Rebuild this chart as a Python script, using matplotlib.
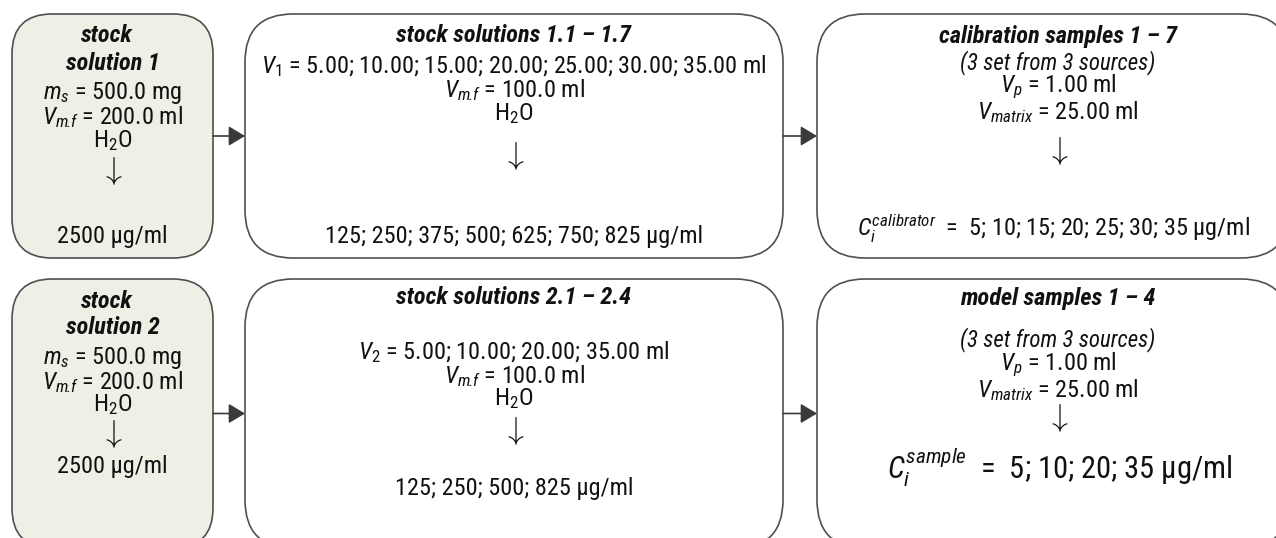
import matplotlib
matplotlib.use("Agg")
import matplotlib.pyplot as plt
from matplotlib.patches import FancyBboxPatch, FancyArrowPatch
import matplotlib.font_manager as fm

# ---------------- data ----------------
stock_mass_mg = 500.0
stock_volume_ml = 200.0
stock_conc = 2500
V1_ml = [5.00, 10.00, 15.00, 20.00, 25.00, 30.00, 35.00]
V2_ml = [5.00, 10.00, 20.00, 35.00]
Vmf_ml = 100.0
conc1_ugml = [125, 250, 375, 500, 625, 750, 825]
conc2_ugml = [125, 250, 500, 825]
Vp_ml = 1.00
Vmatrix_ml = 25.00
calib_ugml = [5, 10, 15, 20, 25, 30, 35]
sample_ugml = [5, 10, 20, 35]

# ---------------- fonts ----------------
def _wt(w):
    if isinstance(w, str):
        return {"bold": 700, "normal": 400, "regular": 400}.get(w, 400)
    return int(w)

def usable(name):
    ent = [f for f in fm.fontManager.ttflist if f.name == name]
    reg = any(f.style == "normal" and _wt(f.weight) <= 500 for f in ent)
    it = any(f.style in ("italic", "oblique") and _wt(f.weight) <= 500 for f in ent)
    bi = any(f.style in ("italic", "oblique") and _wt(f.weight) >= 600 for f in ent)
    return reg and it and bi

FONT = "Liberation Sans"
for cand in ["Liberation Sans Narrow", "Arial Narrow", "Roboto Condensed",
             "Archivo Narrow", "Fira Sans Condensed", "Barlow Semi Condensed",
             "IBM Plex Sans Condensed", "Encode Sans Condensed",
             "Asap Condensed", "Open Sans Condensed"]:
    if usable(cand):
        FONT = cand
        break
SCALE = 0.82 if FONT == "Liberation Sans" else 1.0

plt.rcParams["font.family"] = [FONT, "DejaVu Sans"]
plt.rcParams["mathtext.fontset"] = "custom"
plt.rcParams["mathtext.rm"] = FONT
plt.rcParams["mathtext.it"] = FONT + ":italic"
plt.rcParams["mathtext.bf"] = FONT + ":bold"
plt.rcParams["mathtext.fallback"] = "cm"

FS = 17.5 * SCALE
FS_SMALL = 16.5 * SCALE
FS_BIG = 22 * SCALE
FS_ARROW = 23
TXT = "#111111"
EDGE = "#505050"
FILL1 = "#EEF0E6"

W, H = 1276, 538
fig = plt.figure(figsize=(W / 100, H / 100), dpi=100)
ax = fig.add_axes([0, 0, 1, 1])
ax.set_xlim(0, W)
ax.set_ylim(H, 0)
ax.axis("off")


def box(x0, y0, x1, y1, r, fc):
    p = FancyBboxPatch((x0, y0), x1 - x0, y1 - y0,
                       boxstyle=f"round,pad=0,rounding_size={r}",
                       fc=fc, ec=EDGE, lw=1.2, zorder=1)
    ax.add_patch(p)


def arrow(x0, x1, y):
    a = FancyArrowPatch((x0, y), (x1, y),
                        arrowstyle="-|>,head_length=1.0,head_width=0.6",
                        mutation_scale=10, color="#3a3a3a", lw=1.2,
                        shrinkA=0, shrinkB=0, zorder=2)
    ax.add_patch(a)


def t(x, y, s, size=FS, **kw):
    ax.text(x, y, s, ha="center", va="center", fontsize=size, color=TXT,
            zorder=3, **kw)


def down(x, y):
    t(x, y, r"$\downarrow$", size=FS_ARROW)


def fmt_list(vals, f):
    return "; ".join(f(v) for v in vals)


rows = [
    dict(y0=14, y1=258, n=1, V=V1_ml, conc=conc1_ugml, final=calib_ugml,
         title3="calibration samples 1 – 7", sup="calibrator", big=False,
         title2="stock solutions 1.1 – 1.7"),
    dict(y0=279, y1=548, n=2, V=V2_ml, conc=conc2_ugml, final=sample_ugml,
         title3="model samples 1 – 4", sup="sample", big=True,
         title2="stock solutions 2.1 – 2.4"),
]

# column geometry
B1 = (12, 213)
B2 = (245, 783)
B3 = (817, 1289)

# vertical positions of text lines in each box (pixel rows)
pos_b1 = [[36, 63, 93, 117, 141, 171, 237],
          [301, 328, 358, 382, 405, 434, 467]]
pos_b2 = [[36, 66, 90, 114, 156, 236],
          [298, 352, 376, 399, 431, 488]]
pos_b3 = [[36, 63, 87, 112, 151, 229],
          [298, 340, 365, 390, 418, 467]]

for i, row in enumerate(rows):
    y0, y1 = row["y0"], row["y1"]
    ym = (y0 + y1) / 2
    box(B1[0], y0, B1[1], y1, 40, FILL1)
    box(B2[0], y0, B2[1], y1, 48, "white")
    box(B3[0], y0, B3[1], y1, 48, "white")
    arrow(B1[1], B2[0], ym)
    arrow(B2[1], B3[0], ym)

    # box 1
    cx = (B1[0] + B1[1]) / 2
    p = pos_b1[i]
    t(cx - 6, p[0], "stock", weight="bold", style="italic")
    t(cx, p[1], f"solution {row['n']}", weight="bold", style="italic")
    t(cx, p[2], rf"$m_s$ = {stock_mass_mg:.1f} mg")
    t(cx, p[3], rf"$V_{{m\!.\!f}}$ = {stock_volume_ml:.1f} ml")
    t(cx, p[4], r"H$_2$O")
    down(cx, p[5])
    t(cx, p[6], f"{stock_conc} µg/ml")

    # box 2
    cx = (B2[0] + B2[1]) / 2
    p = pos_b2[i]
    t(cx, p[0], row["title2"], weight="bold", style="italic")
    vs = fmt_list(row["V"], lambda v: f"{v:.2f}")
    t(cx, p[1], rf"$V_{{\rm {row['n']}}}$ = {vs} ml")
    t(cx, p[2], rf"$V_{{m\!.\!f}}$ = {Vmf_ml:.1f} ml")
    t(cx, p[3], r"H$_2$O")
    down(cx, p[4])
    cs = fmt_list(row["conc"], lambda v: f"{v}")
    t(cx, p[5], f"{cs} µg/ml")

    # box 3
    cx = 1058
    p = pos_b3[i]
    t(cx, p[0], row["title3"], weight="bold", style="italic")
    t(cx, p[1], "(3 set from 3 sources)", size=FS_SMALL, style="italic")
    t(cx, p[2], rf"$V_p$ = {Vp_ml:.2f} ml")
    t(cx, p[3], rf"$V_{{matrix}}$ = {Vmatrix_ml:.2f} ml")
    down(cx, p[4])
    fs = "; ".join(str(v) for v in row["final"])
    size = FS_BIG if row["big"] else FS
    dx = 2 if row["big"] else -5
    t(cx + dx, p[5], rf"$C_i^{{{row['sup']}}}$  =  {fs} µg/ml", size=size)

fig.savefig("out.png", dpi=100)
